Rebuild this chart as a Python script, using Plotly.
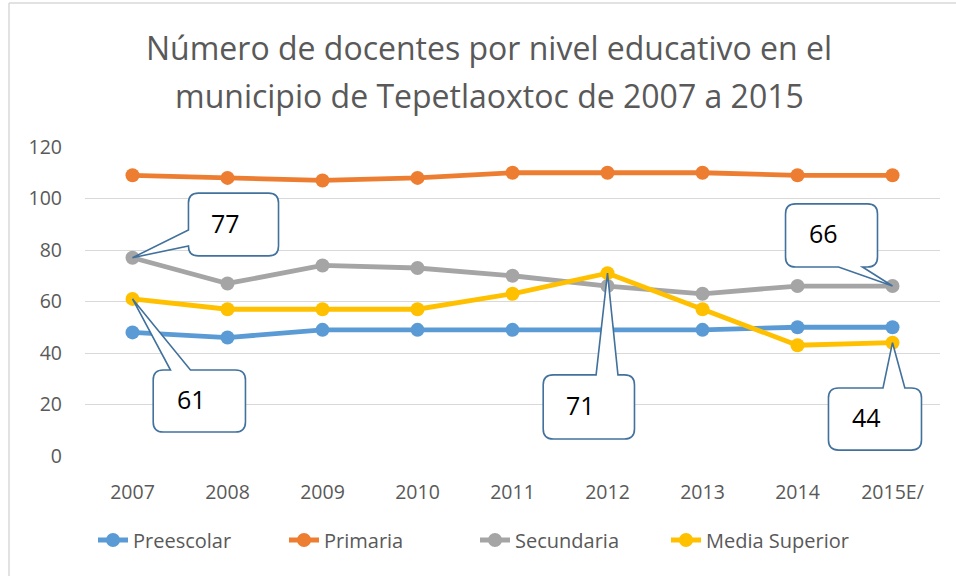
import plotly.graph_objects as go

years = ["2007", "2008", "2009", "2010", "2011", "2012", "2013", "2014", "2015E/"]
preescolar = [48, 46, 49, 49, 49, 49, 49, 50, 50]
primaria = [109, 108, 107, 108, 110, 110, 110, 109, 109]
secundaria = [77, 67, 74, 73, 70, 66, 63, 66, 66]
media_superior = [61, 57, 57, 57, 63, 71, 57, 43, 44]

series = [
    ("Preescolar", preescolar, "#5B9BD5"),
    ("Primaria", primaria, "#ED7D31"),
    ("Secundaria", secundaria, "#A5A5A5"),
    ("Media Superior", media_superior, "#FFC000"),
]

FONT = "'Open Sans', 'Noto Sans', sans-serif"
xs = list(range(len(years)))

fig = go.Figure()
for name, vals, color in series:
    fig.add_trace(go.Scatter(
        x=xs, y=vals, name=name, mode="lines+markers",
        line=dict(color=color, width=4.8),
        marker=dict(color=color, size=14),
    ))

# Callouts: (series values, index, box [x0, x1, ybottom, ytop], side, wedge base a, b)
callouts = [
    (secundaria, 0, [0.589, 1.537, 77.7, 102.1], "left", 81.6, 87.8),
    (media_superior, 0, [0.218, 1.189, 9.3, 33.4], "top", 0.40, 0.61),
    (media_superior, 5, [4.323, 5.284, 6.6, 31.5], "top", 4.88, 5.11),
    (secundaria, 8, [6.874, 7.842, 73.4, 97.9], "bottom", 7.432, 7.684),
    (media_superior, 8, [7.326, 8.305, 2.3, 26.4], "top", 7.90, 8.13),
]

RX = 10 / 95.0
RY = 10 / 2.575


def callout_path(box, side, a, b, tx, ty):
    x0, x1, y0, y1 = box
    p = [f"M {x0+RX},{y1}"]
    if side == "top":
        p += [f"L {a},{y1}", f"L {tx},{ty}", f"L {b},{y1}"]
    p += [f"L {x1-RX},{y1}", f"Q {x1},{y1} {x1},{y1-RY}",
          f"L {x1},{y0+RY}", f"Q {x1},{y0} {x1-RX},{y0}"]
    if side == "bottom":
        p += [f"L {b},{y0}", f"L {tx},{ty}", f"L {a},{y0}"]
    p += [f"L {x0+RX},{y0}", f"Q {x0},{y0} {x0},{y0+RY}"]
    if side == "left":
        p += [f"L {x0},{a}", f"L {tx},{ty}", f"L {x0},{b}"]
    p += [f"L {x0},{y1-RY}", f"Q {x0},{y1} {x0+RX},{y1}", "Z"]
    return " ".join(p)


shapes = []
annotations = []
for vals, idx, box, side, a, b in callouts:
    shapes.append(dict(
        type="path", xref="x", yref="y",
        path=callout_path(box, side, a, b, xs[idx], vals[idx]),
        fillcolor="white", line=dict(color="#41719C", width=1.6), layer="above",
    ))
    annotations.append(dict(
        x=(box[0] + box[1]) / 2, y=(box[2] + box[3]) / 2,
        xref="x", yref="y", text=str(vals[idx]), showarrow=False,
        xshift=-8, yshift=2,
        font=dict(family=FONT, size=25, color="black"),
    ))

# chart border (left and top visible)
shapes.append(dict(type="line", xref="paper", yref="paper",
                   x0=-76/855, x1=-76/855, y0=-120/309, y1=(456-3)/309,
                   line=dict(color="#D9D9D9", width=1.5), layer="below"))
shapes.append(dict(type="line", xref="paper", yref="paper",
                   x0=-76/855, x1=(956-85)/855, y0=(456-3)/309, y1=(456-3)/309,
                   line=dict(color="#D9D9D9", width=1.5), layer="below"))

annotations.append(dict(
    text="Número de docentes por nivel educativo en el", xref="paper", yref="paper",
    x=(489-85)/855, y=(456-47)/309, showarrow=False, xanchor="center", yanchor="middle",
    font=dict(family=FONT, size=32, color="#595959"),
))
annotations.append(dict(
    text="municipio de Tepetlaoxtoc de 2007 a 2015", xref="paper", yref="paper",
    x=(489-85)/855, y=(456-95)/309, showarrow=False, xanchor="center", yanchor="middle",
    font=dict(family=FONT, size=32, color="#595959"),
))

fig.update_layout(
    width=956, height=576,
    margin=dict(l=85, r=16, t=147, b=120),
    paper_bgcolor="white", plot_bgcolor="white",
    showlegend=True,
    legend=dict(orientation="h", x=(93-85)/855, xanchor="left", y=-84/309, yanchor="middle",
                font=dict(family=FONT, size=20, color="#595959"),
                entrywidth=146, entrywidthmode="pixels", traceorder="normal"),
    xaxis=dict(range=[-0.5, 8.5], tickmode="array", tickvals=xs, ticktext=years,
               showgrid=False, zeroline=False, showline=False, ticks="",
               ticklabelstandoff=22,
               tickfont=dict(family=FONT, size=19.5, color="#595959"), fixedrange=True),
    yaxis=dict(range=[0, 120], tickvals=[0, 20, 40, 60, 80, 100, 120],
               showgrid=True, gridcolor="#D9D9D9", gridwidth=1.2, zeroline=False,
               showline=False, ticks="", ticklabelstandoff=22,
               tickfont=dict(family=FONT, size=19.5, color="#595959")),
    shapes=shapes, annotations=annotations,
)

fig.write_html(
    "out.html", config={"displayModeBar": False},
    post_script=("document.documentElement.style.overflow='hidden';"
                 "document.body.style.margin='0';document.body.style.overflow='hidden';"),
)
